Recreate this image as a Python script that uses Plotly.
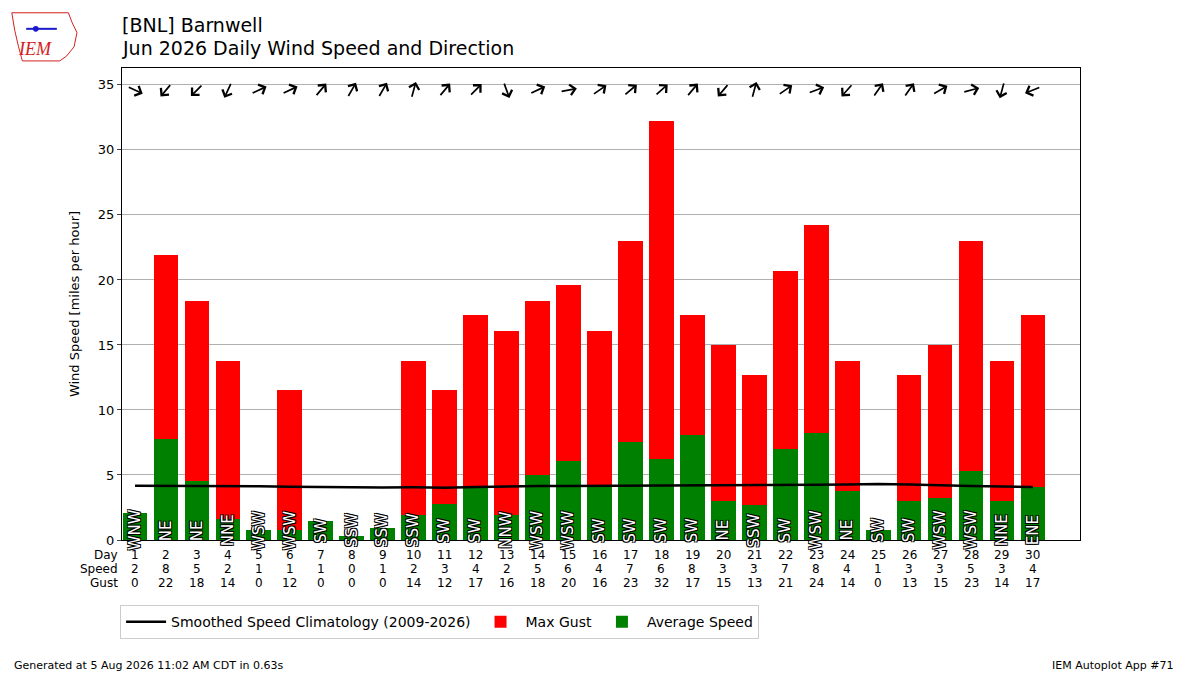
import math
import plotly.graph_objects as go

# Barnwell (BNL) June 2026 daily wind
days = list(range(1, 31))
avg_speed = [2.1, 7.8, 4.5, 1.6, 0.8, 0.8, 1.5, 0.3, 0.9, 1.9,
             2.8, 4.0, 1.9, 5.0, 6.1, 4.1, 7.5, 6.2, 8.1, 3.0,
             2.7, 7.0, 8.2, 3.8, 0.8, 3.0, 3.2, 5.3, 3.0, 4.1]
max_gust = [0, 21.9, 18.4, 13.8, 0, 11.5, 0, 0, 0, 13.8,
            11.5, 17.3, 16.1, 18.4, 19.6, 16.1, 23.0, 32.2, 17.3, 15.0,
            12.7, 20.7, 24.2, 13.8, 0, 12.7, 15.0, 23.0, 13.8, 17.3]
speed_lbl = [2, 8, 5, 2, 1, 1, 1, 0, 1, 2, 3, 4, 2, 5, 6,
             4, 7, 6, 8, 3, 3, 7, 8, 4, 1, 3, 3, 5, 3, 4]
gust_lbl = [0, 22, 18, 14, 0, 12, 0, 0, 0, 14, 12, 17, 16, 18, 20,
            16, 23, 32, 17, 15, 13, 21, 24, 14, 0, 13, 15, 23, 14, 17]
dir_txt = ["WNW", "NE", "NE", "NNE", "WSW", "WSW", "SW", "SSW", "SSW", "SSW",
           "SW", "SW", "NNW", "WSW", "WSW", "SW", "SW", "SW", "SW", "NE",
           "SSW", "SW", "WSW", "NE", "SW", "SW", "WSW", "WSW", "NNE", "ENE"]
dir_deg = [295, 40, 45, 25, 245, 245, 220, 210, 210, 195,
           220, 225, 340, 245, 260, 235, 230, 228, 220, 40,
           195, 235, 250, 42, 215, 215, 240, 255, 15, 68]
clim = [4.18, 4.18, 4.17, 4.16, 4.13, 4.10, 4.07, 4.02, 4.03, 4.05,
        4.02, 4.08, 4.13, 4.15, 4.16, 4.17, 4.17, 4.18, 4.18, 4.17,
        4.22, 4.24, 4.25, 4.27, 4.30, 4.27, 4.20, 4.15, 4.12, 4.08]

font = "DejaVu Sans"

fig = go.Figure()
fig.add_trace(go.Bar(x=days, y=max_gust, marker_color="red", width=0.8,
                     marker_line_width=0, name="Max Gust", legendrank=2))
fig.add_trace(go.Bar(x=days, y=avg_speed, marker_color="green", width=0.8,
                     marker_line_width=0, name="Average Speed", legendrank=3))
fig.add_trace(go.Scatter(x=days, y=clim, mode="lines",
                         line=dict(color="black", width=2.5),
                         name="Smoothed Speed Climatology (2009-2026)", legendrank=1))

ann = []
L = 17
# wind direction arrows (pointing where the wind goes)
for d, deg in zip(days, dir_deg):
    t = math.radians(deg + 180)
    sx, sy = math.sin(t), math.cos(t)
    ann.append(dict(x=d, y=34.6, xref="x", yref="y", text="", showarrow=True,
                    arrowhead=4, arrowsize=1.2, arrowwidth=1.7, arrowcolor="black",
                    axref="pixel", ayref="pixel", ax=-L * sx, ay=L * sy,
                    xshift=L / 2 * sx, yshift=L / 2 * sy, standoff=0, startstandoff=0))

# direction labels at the bar bottoms
outline = "1px 1px 0 #000, -1px -1px 0 #000, 1px -1px 0 #000, -1px 1px 0 #000"
for d, txt in zip(days, dir_txt):
    ann.append(dict(x=d, y=0.75, xref="x", yref="y", text=txt, showarrow=False,
                    textangle=-90, xanchor="center", yanchor="middle",
                    font=dict(family=font, size=15, color="white", shadow=outline)))

# table under the axis
rows = [("Day", days, -0.032), ("Speed", speed_lbl, -0.062), ("Gust", gust_lbl, -0.091)]
for label, vals, yy in rows:
    ann.append(dict(x=-0.002, y=yy, xref="paper", yref="paper", text=label,
                    showarrow=False, xanchor="right", yanchor="middle",
                    font=dict(family=font, size=12, color="black")))
    for d, v in zip(days, vals):
        ann.append(dict(x=d, y=yy, xref="x", yref="paper", text=str(v),
                        showarrow=False, xanchor="center", yanchor="middle",
                        font=dict(family=font, size=12, color="black")))

# titles and footer
ann.append(dict(x=-0.002, y=1.091, xref="paper", yref="paper", text="[BNL] Barnwell",
                showarrow=False, xanchor="left", yanchor="middle",
                font=dict(family=font, size=19, color="black")))
ann.append(dict(x=-0.002, y=1.042, xref="paper", yref="paper",
                text="Jun 2026 Daily Wind Speed and Direction",
                showarrow=False, xanchor="left", yanchor="middle",
                font=dict(family=font, size=19, color="black")))
ann.append(dict(x=-0.115, y=-0.265, xref="paper", yref="paper",
                text="Generated at 5 Aug 2026 11:02 AM CDT in 0.63s",
                showarrow=False, xanchor="left", yanchor="middle",
                font=dict(family=font, size=11, color="black")))
ann.append(dict(x=1.1, y=-0.265, xref="paper", yref="paper",
                text="IEM Autoplot App #71",
                showarrow=False, xanchor="right", yanchor="middle",
                font=dict(family=font, size=11, color="black")))
# logo stand-in
ann.append(dict(x=-0.091, y=1.04, xref="paper", yref="paper", text="<i>IEM</i>",
                showarrow=False, xanchor="center", yanchor="middle",
                font=dict(family="Liberation Serif", size=18, color="#d42020")))

shapes = [dict(type="path", xref="paper", yref="paper",
               path="M -0.115 1.117 L -0.056 1.117 L -0.052 1.096 L -0.047 1.075 "
                    "L -0.050 1.045 L -0.058 1.025 L -0.065 1.015 L -0.104 1.015 "
                    "L -0.108 1.045 L -0.112 1.08 Z",
               line=dict(color="#d42020", width=1)),
          dict(type="line", xref="paper", yref="paper", x0=-0.100, x1=-0.068,
               y0=1.083, y1=1.083, line=dict(color="#1a1acc", width=2)),
          dict(type="circle", xref="paper", yref="paper", x0=-0.093, x1=-0.087,
               y0=1.077, y1=1.089, fillcolor="#1a1acc", line=dict(width=0))]

# the page adds an 8px body margin, so the figure is 8px smaller each way
fig.update_layout(
    width=1192, height=667,
    margin=dict(l=114, r=120, t=60, b=135),
    paper_bgcolor="white", plot_bgcolor="white",
    barmode="overlay", bargap=0,
    font=dict(family=font, size=13, color="black"),
    annotations=ann, shapes=shapes,
    legend=dict(orientation="h", x=-0.002, y=-0.174, xanchor="left", yanchor="middle",
                bordercolor="#cccccc", borderwidth=1, font=dict(family=font, size=14),
                itemwidth=40),
    xaxis=dict(range=[0.58, 31.52], showticklabels=False, ticks="", showgrid=False,
               zeroline=False, showline=True, linecolor="black", linewidth=1, mirror=True),
    yaxis=dict(range=[0, 36.3], tick0=0, dtick=5, ticks="outside", ticklen=4,
               showgrid=True, gridcolor="#b0b0b0", gridwidth=1, zeroline=False,
               showline=True, linecolor="black", linewidth=1, mirror=True,
               title=dict(text="Wind Speed [miles per hour]", font=dict(size=13)),
               tickfont=dict(size=13)),
)

fig.write_html("out.html")
